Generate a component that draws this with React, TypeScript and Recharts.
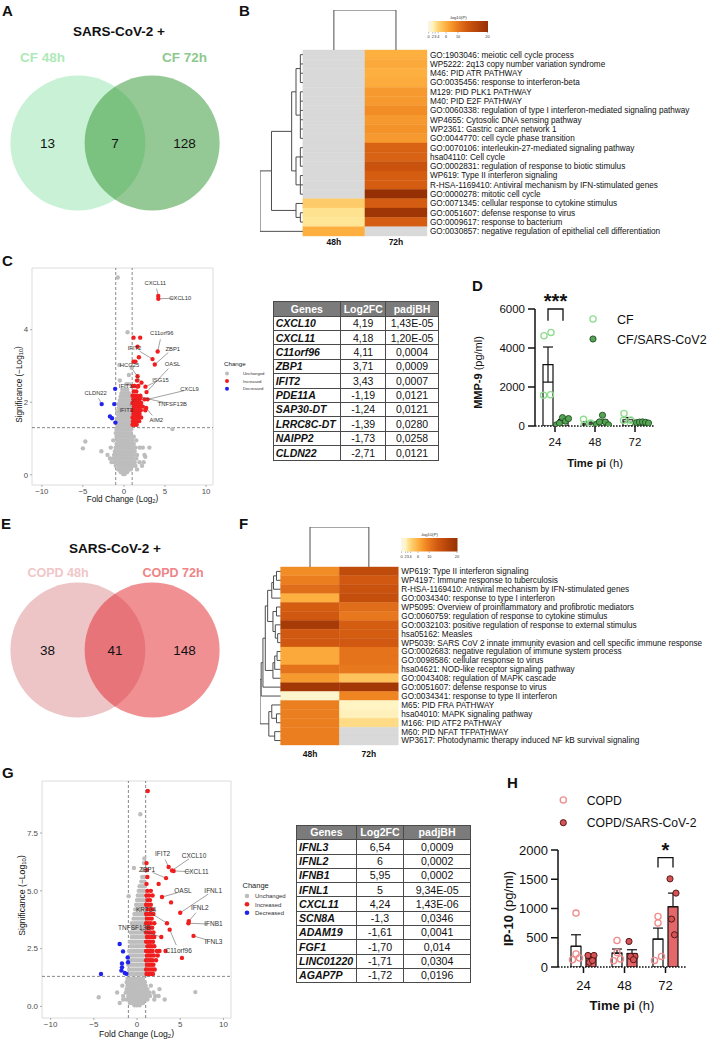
import React from "react";
import {
  ScatterChart,
  Scatter,
  ComposedChart,
  Bar,
  ErrorBar,
  LabelList,
  XAxis,
  YAxis,
  ReferenceLine,
  ReferenceArea,
} from "recharts";

const FONT = "'Liberation Sans', Arial, Helvetica, sans-serif";
const INK = "#111";

// ---------- A / E : venn counts (48h only, shared, 72h only)
const CF_COUNTS = [13, 7, 128];
const COPD_COUNTS = [38, 41, 148];

// ---------- B / F : enrichment heatmaps, -log10(P), null = not enriched
const HEAT_COLS = ["48h", "72h"];

const B_TERMS = [
  "GO:1903046: meiotic cell cycle process",
  "WP5222: 2q13 copy number variation syndrome",
  "M46: PID ATR PATHWAY",
  "GO:0035456: response to interferon-beta",
  "M129: PID PLK1 PATHWAY",
  "M40: PID E2F PATHWAY",
  "GO:0060338: regulation of type I interferon-mediated signaling pathway",
  "WP4655: Cytosolic DNA sensing pathway",
  "WP2361: Gastric cancer network 1",
  "GO:0044770: cell cycle phase transition",
  "GO:0070106: interleukin-27-mediated signaling pathway",
  "hsa04110: Cell cycle",
  "GO:0002831: regulation of response to biotic stimulus",
  "WP619: Type II interferon signaling",
  "R-HSA-1169410: Antiviral mechanism by IFN-stimulated genes",
  "GO:0000278: mitotic cell cycle",
  "GO:0071345: cellular response to cytokine stimulus",
  "GO:0051607: defense response to virus",
  "GO:0009617: response to bacterium",
  "GO:0030857: negative regulation of epithelial cell differentiation",
];
const B_48 = [null, null, null, null, null, null, null, null, null, null, null, null, null, null, null, null, 4.5, 3.2, 3.0, 6.0];
const B_72 = [6.0, 6.5, 6.0, 6.3, 7.5, 7.5, 8.5, 7.5, 8.0, 7.5, 12, 12, 14, 12.5, 12.5, 20, 12.5, 19, 12.5, null];

const F_TERMS = [
  "WP619: Type II interferon signaling",
  "WP4197: Immune response to tuberculosis",
  "R-HSA-1169410: Antiviral mechanism by IFN-stimulated genes",
  "GO:0034340: response to type I interferon",
  "WP5095: Overview of proinflammatory and profibrotic mediators",
  "GO:0060759: regulation of response to cytokine stimulus",
  "GO:0032103: positive regulation of response to external stimulus",
  "hsa05162: Measles",
  "WP5039: SARS CoV 2 innate immunity evasion and cell specific immune response",
  "GO:0002683: negative regulation of immune system process",
  "GO:0098586: cellular response to virus",
  "hsa04621: NOD-like receptor signaling pathway",
  "GO:0043408: regulation of MAPK cascade",
  "GO:0051607: defense response to virus",
  "GO:0034341: response to type II interferon",
  "M65: PID FRA PATHWAY",
  "hsa04010: MAPK signaling pathway",
  "M166: PID ATF2 PATHWAY",
  "M60: PID NFAT TFPATHWAY",
  "WP3617: Photodynamic therapy induced NF kB survival signaling",
];
const F_48 = [8.5, 9.5, 11, 6, 12.5, 13, 18, 13, 13, 6.5, 6.5, 10.5, 7.5, 18.5, 1.5, 9.5, 9.5, 9.5, 9.5, 9.5];
const F_72 = [15, 13, 14, 14.5, 11, 10, 12.5, 12.5, 13, 10.5, 10.5, 10, 5, 18.5, 9, 2, 2.2, 3.6, null, null];

// dendrograms: [merge height, ...children]; leaves are row indexes
const B_TREE: any = [-0.69,
  [-0.505,
    [-0.18,
      [-0.11, [-0.04, 0, 1, 2, 3], [-0.04, 4, 5, 6, 7, 8, 9]],
      [-0.11, [-0.04, 10, 11, 12], [-0.04, 13, 14, 15]]],
    [-0.11, 16, [-0.04, 17, 18]]],
  19];
const F_TREE: any = [-0.35,
  [-0.33,
    [-0.3,
      [-0.26,
        [-0.22,
          [-0.15, [-0.12, [-0.07, 0, 1], 2], 3],
          [-0.13, [-0.07, 4, 5], [-0.09, 6, [-0.05, 7, 8]]]],
        [-0.13, [-0.1, [-0.06, 9, 10], 11], 12]],
      13],
    14],
  [-0.2, [-0.15, 15, [-0.07, 16, 17]], [-0.1, 18, 19]]];

const HEAT_STOPS: [number, number[]][] = [
  [0, [247, 246, 236]], [2, [255, 244, 196]], [3, [254, 230, 150]], [4, [254, 212, 120]],
  [6, [253, 176, 64]], [8.5, [242, 140, 36]], [10, [232, 120, 30]], [13, [208, 88, 16]],
  [16, [184, 70, 10]], [20, [150, 48, 4]],
];
const HEAT_BAR_POS = [0, 0.08, 0.12, 0.17, 0.3, 0.425, 0.5, 0.65, 0.8, 1];
const HEAT_TICKS: [string, number][] = [["0", 0.01], ["2", 0.08], ["3", 0.12], ["4", 0.17], ["6", 0.3], ["10", 0.5], ["20", 0.99]];

// ---------- C / G volcano plots  (rows: [-log10 p, [log2 fc ...]])
const C_GRAY_ROWS: [number, number[]][] = [
  [0.02, [-0.1, 0.1]],
  [0.08, [-0.4, -0.2, 0, 0.2, 0.4]],
  [0.15, [-0.7, -0.45, -0.2, 0.05, 0.3, 0.55, 0.8, 1.6]],
  [0.25, [-1.0, -0.7, -0.4, -0.1, 0.2, 0.5, 0.8, 1.1, 1.4, 2.2]],
  [0.35, [-1.5, -1.1, -0.8, -0.5, -0.2, 0.1, 0.4, 0.7, 1.0, 1.3, 1.9, 2.4]],
  [0.45, [-1.7, -1.3, -1.0, -0.7, -0.4, -0.1, 0.2, 0.5, 0.8, 1.1, 1.5]],
  [0.55, [-2.0, -1.2, -0.9, -0.6, -0.3, 0, 0.3, 0.6, 0.9, 1.2, 1.6, 2.5]],
  [0.65, [-2.75, -1.1, -0.8, -0.5, -0.2, 0.1, 0.4, 0.7, 1.0, 1.3]],
  [0.75, [-1.6, -1.0, -0.7, -0.4, -0.1, 0.2, 0.5, 0.8, 1.1, 1.4, 1.9, 2.3, 3.1]],
  [0.85, [-0.9, -0.6, -0.3, 0, 0.3, 0.6, 0.9, 1.2]],
  [0.95, [-1.3, -0.8, -0.5, -0.2, 0.1, 0.4, 0.7, 1.0, 1.5]],
  [1.05, [-0.9, -0.6, -0.3, 0, 0.3, 0.6, 0.9, 1.2]],
  [1.15, [-1.0, -0.7, -0.4, -0.1, 0.2, 0.5, 0.8]],
  [1.25, [-0.9, -0.6, -0.3, 0, 0.3, 0.6, 0.9]],
  [1.35, [-0.8, -0.5, -0.2, 0.1, 0.4, 0.7]],
  [1.45, [-0.9, -0.6, -0.3, 0, 0.3, 0.6, 0.9]],
  [1.55, [-0.8, -0.5, -0.2, 0.1, 0.4, 0.7]],
  [1.65, [-0.7, -0.4, -0.1, 0.2, 0.5, 0.8]],
  [1.75, [-0.8, -0.5, -0.2, 0.1, 0.4, 0.7]],
  [1.85, [-0.6, -0.3, 0, 0.3, 0.6, 0.9]],
  [1.95, [-0.7, -0.4, -0.1, 0.2, 0.5, 0.8]],
  [2.05, [-0.5, -0.2, 0.1, 0.4, 0.7]],
  [2.15, [-0.4, -0.1, 0.2, 0.5, 0.8]],
  [2.25, [-0.3, 0, 0.3, 0.6]],
  [2.35, [-0.2, 0.1, 0.4]],
  [2.5, [0.3, 0.6]],
];
const C_GRAY_EXTRA = [
  { x: -0.75, y: 5.44 }, { x: 0.44, y: 3.93 }, { x: -0.55, y: 3.03 }, { x: 0.6, y: 2.75 },
  { x: -0.5, y: 2.6 }, { x: 0.95, y: 2.95 }, { x: -5.0, y: 0.73 }, { x: -4.7, y: 0.92 },
  { x: 5.9, y: 1.26 }, { x: 2.6, y: 0.5 },
];
const C_RED_ROWS: [number, number[]][] = [
  [1.38, [1.05, 1.3, 1.55]],
  [1.48, [1.1, 1.35, 1.6, 1.85]],
  [1.58, [1.05, 1.3, 1.55, 1.8, 2.1]],
  [1.68, [1.15, 1.4, 1.65, 1.9]],
  [1.78, [1.05, 1.3, 1.55, 1.8, 2.05, 2.6]],
  [1.88, [1.2, 1.45, 1.7, 1.95, 2.3]],
  [1.98, [1.05, 1.3, 1.55, 1.8, 2.1]],
  [2.08, [1.15, 1.4, 1.65, 1.9, 2.5]],
  [2.18, [1.05, 1.3, 1.6, 2.0]],
  [2.3, [1.2, 1.5]],
  [2.45, [1.1, 1.3, 1.75]],
  [2.6, [1.6]],
  [2.72, [1.66]],
  [3.12, [1.17, 1.4]],
  [3.24, [1.82]],
  [3.53, [1.66]],
  [3.78, [1.17, 1.98]],
];
const C_BLUE = [
  { x: -1.18, y: 1.95 }, { x: -1.07, y: 2.37 }, { x: -1.7, y: 1.61 }, { x: -1.45, y: 1.56 }, { x: -1.04, y: 1.44 },
];
const C_LABELED = [
  { gene: "CXCL11", x: 4.18, y: 4.93, up: true },
  { gene: "CXCL10", x: 4.19, y: 4.85, up: true },
  { gene: "C11orf96", x: 4.11, y: 3.4, up: true },
  { gene: "ZBP1", x: 3.76, y: 3.04, up: true },
  { gene: "IFIT2", x: 3.48, y: 3.19, up: true },
  { gene: "OASL", x: 2.75, y: 2.28, up: true },
  { gene: "HCG25", x: 2.14, y: 2.54, up: true },
  { gene: "ISG15", x: 2.62, y: 2.43, up: true },
  { gene: "CXCL9", x: 2.87, y: 2.08, up: true },
  { gene: "TNFSF13B", x: 1.99, y: 2.14, up: true },
  { gene: "IFIT3", x: 1.5, y: 2.14, up: true },
  { gene: "AIM2", x: 2.71, y: 1.84, up: true },
  { gene: "IFIT1", x: 1.66, y: 2.43, up: true },
  { gene: "CLDN22", x: -2.71, y: 1.95, up: false },
];
const C_LABEL_OFFSET: Record<string, [number, number]> = {
  CXCL11: [-3, -13], CXCL10: [22, -1], C11orf96: [4, -18], ZBP1: [18, -16], IFIT2: [-18, -11],
  OASL: [26, -28], HCG25: [-12, -18], ISG15: [15, -7], CXCL9: [42, -10], TNFSF13B: [32, 7],
  IFIT3: [-10, 13], AIM2: [10, 12], IFIT1: [-12, -1], CLDN22: [-6, -11],
};

const G_GRAY_ROWS: [number, number[]][] = [
  [0.05, [-0.3, 0, 0.3]],
  [0.15, [-2.0, -0.8, -0.5, -0.2, 0.1, 0.4, 0.7]],
  [0.3, [-1.6, -1.2, -0.9, -0.6, -0.3, 0, 0.3, 0.6, 0.9, 1.2, 2.0, 3.2]],
  [0.45, [-1.6, -1.0, -0.7, -0.4, -0.1, 0.2, 0.5, 0.8, 1.1, 1.5, 2.1, 2.5]],
  [0.6, [-2.3, -1.3, -1.0, -0.7, -0.4, -0.1, 0.2, 0.5, 0.8, 1.1, 1.4, 1.9]],
  [0.75, [-1.2, -0.9, -0.6, -0.3, 0, 0.3, 0.6, 0.9, 1.2, 2.6]],
  [0.9, [-1.7, -1.1, -0.8, -0.5, -0.2, 0.1, 0.4, 0.7, 1.0, 1.6]],
  [1.05, [-1.2, -0.9, -0.6, -0.3, 0, 0.3, 0.6, 0.9]],
  [1.2, [-1.1, -0.8, -0.5, -0.2, 0.1, 0.4, 0.7]],
  [1.4, [-1.0, -0.7, -0.4, -0.1, 0.2, 0.5, 0.8]],
  [1.6, [-0.9, -0.6, -0.3, 0, 0.3, 0.6, 0.9]],
  [1.8, [-1.0, -0.7, -0.4, -0.1, 0.2, 0.5, 0.8]],
  [2.0, [-0.9, -0.6, -0.3, 0, 0.3, 0.6, 0.9]],
  [2.2, [-0.8, -0.5, -0.2, 0.1, 0.4, 0.7]],
  [2.4, [-0.9, -0.6, -0.3, 0, 0.3, 0.6, 0.9]],
  [2.6, [-0.7, -0.4, -0.1, 0.2, 0.5, 0.8]],
  [2.8, [-0.8, -0.5, -0.2, 0.1, 0.4, 0.7]],
  [3.0, [-0.6, -0.3, 0, 0.3, 0.6, 0.9]],
  [3.2, [-0.7, -0.4, -0.1, 0.2, 0.5, 0.8]],
  [3.4, [-0.5, -0.2, 0.1, 0.4, 0.7]],
  [3.6, [-0.6, -0.3, 0, 0.3, 0.6, 0.9]],
  [3.8, [-0.4, -0.1, 0.2, 0.5, 0.8]],
  [4.0, [-0.3, 0, 0.3, 0.6, 0.9]],
  [4.2, [-0.2, 0.1, 0.4, 0.7]],
  [4.4, [-0.1, 0.2, 0.5, 0.8]],
  [4.6, [0, 0.3, 0.6, 0.9]],
  [4.8, [0.1, 0.4, 0.7]],
  [5.0, [0.2, 0.5, 0.8]],
  [5.2, [0.3, 0.6, 0.9]],
  [5.4, [0.5, 0.8]],
  [5.6, [0.6, 0.9]],
  [5.9, [0.7]],
  [6.2, [0.8]],
  [6.4, [0.85]],
];
const G_GRAY_EXTRA = [
  { x: 0.38, y: 8.31 }, { x: -0.36, y: 5.99 }, { x: -0.97, y: 4.77 }, { x: -4.44, y: 0.4 }, { x: 6.75, y: 0.62 },
];
const G_RED_ROWS: [number, number[]][] = [
  [1.4, [1.1, 1.35, 1.6, 1.85]],
  [1.6, [1.05, 1.3, 1.55, 1.8, 2.05]],
  [1.8, [1.15, 1.4, 1.65, 1.9]],
  [2.0, [1.05, 1.3, 1.55, 1.8, 2.2]],
  [2.2, [1.15, 1.4, 1.65, 1.95, 2.4]],
  [2.4, [1.05, 1.3, 1.55, 1.8, 2.3, 2.6, 3.3]],
  [2.6, [1.2, 1.45, 1.7, 2.0]],
  [2.8, [1.05, 1.3, 1.55, 1.85]],
  [3.0, [1.15, 1.4, 1.7, 2.0]],
  [3.2, [1.05, 1.3, 1.55, 1.9]],
  [3.4, [1.2, 1.45, 1.75]],
  [3.6, [1.05, 1.3, 1.6, 2.0]],
  [3.8, [1.15, 1.4, 1.7]],
  [4.0, [1.05, 1.3, 1.55, 1.9]],
  [4.2, [1.2, 1.5, 1.8]],
  [4.4, [1.05, 1.3, 1.6]],
  [4.6, [1.2, 1.5]],
  [4.8, [1.1, 1.4, 1.8]],
  [5.0, [1.2, 1.6]],
  [5.3, [1.1, 2.5]],
  [5.6, [1.2]],
  [5.9, [1.15]],
  [6.2, [1.1]],
];
const G_RED_EXTRA = [{ x: 1.24, y: 9.32 }, { x: 3.94, y: 4.5 }, { x: 5.2, y: 2.1 }];
const G_BLUE = [
  { x: -4.17, y: 1.4 }, { x: -2.01, y: 2.7 }, { x: -1.62, y: 2.38 }, { x: -1.74, y: 1.86 }, { x: -1.74, y: 1.69 },
  { x: -1.81, y: 1.55 }, { x: -1.42, y: 1.45 }, { x: -1.23, y: 1.41 }, { x: -1.04, y: 1.91 }, { x: -1.08, y: 2.12 },
];
const G_LABELED = [
  { gene: "IFIT2", x: 3.66, y: 6.03, up: true },
  { gene: "CXCL10", x: 4.05, y: 5.88, up: true },
  { gene: "CXCL11", x: 4.24, y: 5.86, up: true },
  { gene: "ZBP1", x: 3.36, y: 5.55, up: true },
  { gene: "OASL", x: 2.89, y: 4.73, up: true },
  { gene: "IFNL1", x: 5.0, y: 4.05, up: true },
  { gene: "IFNL2", x: 6.0, y: 3.69, up: true },
  { gene: "IFNB1", x: 5.95, y: 3.6, up: true },
  { gene: "IFNL3", x: 6.54, y: 3.05, up: true },
  { gene: "KRT34", x: 3.47, y: 3.6, up: true },
  { gene: "C11orf96", x: 3.78, y: 3.32, up: true },
  { gene: "TNFSF13B", x: 2.81, y: 3.0, up: true },
];
const G_LABEL_OFFSET: Record<string, [number, number]> = {
  IFIT2: [-6, -13], CXCL10: [22, -15], CXCL11: [23, 1], ZBP1: [-19, -8], OASL: [21, -6],
  IFNL1: [33, -22], IFNL2: [11, -13], IFNB1: [25, 1], IFNL3: [20, 6], KRT34: [-21, -13],
  C11orf96: [9, 21], TNFSF13B: [-27, -9],
};

// ---------- C / G top genes tables
const TABLE_HEAD = ["Genes", "Log2FC", "padjBH"];
const C_TABLE = [
  ["CXCL10", "4,19", "1,43E-05"], ["CXCL11", "4,18", "1,20E-05"], ["C11orf96", "4,11", "0,0004"],
  ["ZBP1", "3,71", "0,0009"], ["IFIT2", "3,43", "0,0007"], ["PDE11A", "-1,19", "0,0121"],
  ["SAP30-DT", "-1,24", "0,0121"], ["LRRC8C-DT", "-1,39", "0,0280"], ["NAIPP2", "-1,73", "0,0258"],
  ["CLDN22", "-2,71", "0,0121"],
];
const G_TABLE = [
  ["IFNL3", "6,54", "0,0009"], ["IFNL2", "6", "0,0002"], ["IFNB1", "5,95", "0,0002"],
  ["IFNL1", "5", "9,34E-05"], ["CXCL11", "4,24", "1,43E-06"], ["SCN8A", "-1,3", "0,0346"],
  ["ADAM19", "-1,61", "0,0041"], ["FGF1", "-1,70", "0,014"], ["LINC01220", "-1,71", "0,0304"],
  ["AGAP7P", "-1,72", "0,0196"],
];

// ---------- D / H cytokines (pg/ml), bars = mean, errors = SEM
const TIMES = ["24", "48", "72"];
const D_CF_MEAN = [3150, 160, 320];
const D_CF_SEM = [900, 65, 115];
const D_SARS_MEAN = [260, 220, 190];
const D_SARS_SEM = [75, 85, 12];
const D_CF_PTS = [[4630, 4800, 1580, 1600], [40, 110, 340, 160], [640, 295, 295, 70]];
const D_SARS_PTS = [[60, 150, 430, 250, 380], [90, 210, 550, 200, 60], [170, 200, 210, 190, 150]];
const H_COPD_MEAN = [355, 236, 477];
const H_COPD_SEM = [196, 71, 188];
const H_SARS_MEAN = [147, 231, 1030];
const H_SARS_SEM = [50, 64, 233];
const H_COPD_PTS = [[921, 222, 125, 153], [454, 249, 107, 136], [864, 751, 113, 181]];
const H_SARS_PTS = [[198, 198, 80, 110], [437, 181, 181, 125], [1507, 1263, 819, 551]];

// ------------------------------------------------------------------

const rowsToPts = (rows: [number, number[]][]) => rows.flatMap(([y, xs]) => xs.map((x) => ({ x, y })));

function heatColor(v: number | null) {
  if (v == null) return "#d9d9d9";
  for (let i = 1; i < HEAT_STOPS.length; i++) {
    const [v1, c1] = HEAT_STOPS[i];
    const [v0, c0] = HEAT_STOPS[i - 1];
    if (v <= v1) {
      const t = (v - v0) / (v1 - v0);
      const c = c0.map((a, k) => Math.round(a + (c1[k] - a) * t));
      return `rgb(${c[0]},${c[1]},${c[2]})`;
    }
  }
  const c = HEAT_STOPS[HEAT_STOPS.length - 1][1];
  return `rgb(${c[0]},${c[1]},${c[2]})`;
}

function layoutTree(node: any, segs: number[][]): { x: number; y: number } {
  if (typeof node === "number") return { x: 0, y: node + 0.5 };
  const [h, ...kids] = node;
  const pos = kids.map((k: any) => layoutTree(k, segs));
  const ys = pos.map((p: any) => p.y);
  segs.push([h, Math.min(...ys), h, Math.max(...ys)]);
  pos.forEach((p: any) => segs.push([p.x, p.y, h, p.y]));
  return { x: h, y: (pos[0].y + pos[pos.length - 1].y) / 2 };
}

type Part = { t: string; bold?: boolean; sub?: boolean };
function renderParts(parts: Part[]) {
  const out: any[] = [];
  let inSub = false;
  parts.forEach((p, i) => {
    let dy: string | undefined;
    if (p.sub && !inSub) dy = "0.3em";
    if (!p.sub && inSub) dy = "-0.3em";
    inSub = !!p.sub;
    out.push(
      <tspan key={i} dy={dy} fontWeight={p.bold ? "bold" : "normal"} fontSize={p.sub ? "70%" : undefined}>
        {p.t}
      </tspan>
    );
  });
  return out;
}

const xTitle = (parts: Part[], size: number, fromBottom: number) => (p: any) => {
  const vb = p && p.viewBox;
  if (!vb) return null;
  return (
    <text x={vb.x + vb.width / 2} y={vb.y + vb.height - fromBottom} textAnchor="middle" fontSize={size} fontFamily={FONT} fill={INK}>
      {renderParts(parts)}
    </text>
  );
};

const yTitle = (parts: Part[], size: number, dx: number, shift: number) => (p: any) => {
  const vb = p && p.viewBox;
  if (!vb) return null;
  const x = vb.x + dx;
  const y = vb.y + vb.height / 2 + shift;
  return (
    <text x={x} y={y} transform={`rotate(-90 ${x} ${y})`} textAnchor="middle" fontSize={size} fontFamily={FONT} fill={INK}>
      {renderParts(parts)}
    </text>
  );
};

const signed = (v: number) => (v < 0 ? `\u2212${Math.abs(v)}` : `${v}`);

// ---------------- Venn ----------------
const VENN_PX = 67.5; // radius in px
const VENN_CENTERS = [-0.55, 0.55];
const VENN_COUNT_X = [-1.0, 0, 1.03];

function Venn({ top, counts, fills, opacity }: { top: number; counts: number[]; fills: string[]; opacity: number }) {
  const nums = counts.map((n, i) => ({ x: VENN_COUNT_X[i], y: 0, n }));
  return (
    <div style={{ position: "absolute", left: 0, top }}>
      <ScatterChart width={240} height={230} margin={{ top: 0, right: 0, bottom: 0, left: 0 }}>
        <XAxis type="number" dataKey="x" domain={[-1.704, 1.852]} hide allowDataOverflow />
        <YAxis type="number" dataKey="y" domain={[-1.289, 2.119]} hide allowDataOverflow />
        <Scatter
          data={[{ x: VENN_CENTERS[0], y: 0 }]}
          isAnimationActive={false}
          shape={(p: any) => <circle cx={p.cx} cy={p.cy} r={VENN_PX} fill={fills[0]} />}
        />
        <Scatter
          data={[{ x: VENN_CENTERS[1], y: 0 }]}
          isAnimationActive={false}
          shape={(p: any) => <circle cx={p.cx} cy={p.cy} r={VENN_PX} fill={fills[1]} fillOpacity={opacity} />}
        />
        <Scatter
          data={nums}
          isAnimationActive={false}
          shape={(p: any) => (
            <text x={p.cx} y={p.cy} dy="0.36em" textAnchor="middle" fontSize={13.5} fontFamily={FONT} fill={INK}>
              {(p.payload ?? p).n}
            </text>
          )}
        />
      </ScatterChart>
    </div>
  );
}

// ---------------- Heatmap ----------------
function Heatmap(props: any) {
  const { left, top, plotW, plotH, axisW, xAxisH, colGap, xMin, yMin, labels, v48, v72, tree } = props;
  const segs: number[][] = [];
  layoutTree(tree, segs);
  const topSegs = [[0.5, 0, 0.5, yMin], [1.5, 0, 1.5, yMin], [0.5, yMin, 1.5, yMin]];
  const cells = labels.flatMap((_: string, r: number) => [
    { x: 0.5, y: r + 0.5, v: v48[r] },
    { x: 1.5, y: r + 0.5, v: v72[r] },
  ]);
  const rowTicks = labels.map((_: string, r: number) => r + 0.5);
  return (
    <div style={{ position: "absolute", left, top }}>
      <ScatterChart width={plotW + axisW} height={plotH + xAxisH} margin={{ top: 0, right: 0, bottom: 0, left: 0 }}>
        <XAxis
          type="number"
          dataKey="x"
          domain={[xMin, 2]}
          ticks={[0.5, 1.5]}
          interval={0}
          allowDataOverflow
          axisLine={false}
          tickLine={false}
          tickSize={0}
          tickMargin={colGap}
          height={xAxisH}
          tick={(p: any) => (
            <text x={p.x} y={p.y} dy="0.71em" textAnchor="middle" fontSize={8.5} fontWeight="bold" fontFamily={FONT} fill={INK}>
              {HEAT_COLS[Math.floor(p.payload.value)]}
            </text>
          )}
        />
        <YAxis
          type="number"
          dataKey="y"
          orientation="right"
          reversed
          domain={[yMin, 20]}
          ticks={rowTicks}
          interval={0}
          allowDataOverflow
          axisLine={false}
          tickLine={false}
          tickSize={0}
          tickMargin={3}
          width={axisW}
          tick={(p: any) => (
            <text x={p.x} y={p.y} dy="0.35em" textAnchor="start" fontSize={8.2} fontFamily={FONT} fill={INK}>
              {labels[Math.floor(p.payload.value)]}
            </text>
          )}
        />
        {cells.map((c: any, i: number) => (
          <ReferenceArea
            key={`c${i}`}
            x1={c.x - 0.5}
            x2={c.x + 0.5}
            y1={c.y - 0.5}
            y2={c.y + 0.5}
            fill={heatColor(c.v)}
            fillOpacity={1}
            stroke={heatColor(c.v)}
            strokeWidth={0.4}
            ifOverflow="visible"
          />
        ))}
        {[...segs, ...topSegs].map((s, i) => (
          <ReferenceLine
            key={`s${i}`}
            segment={[{ x: s[0], y: s[1] }, { x: s[2], y: s[3] }]}
            stroke="#4d4d4d"
            strokeWidth={1}
            ifOverflow="visible"
          />
        ))}
        <Scatter data={cells} isAnimationActive={false} shape={() => <g />} />
      </ScatterChart>
    </div>
  );
}

// ---------------- Volcano ----------------
const RED = "#f01e1e";
const BLUE = "#2222ee";
const GREY = "#bdbdbd";

function Volcano(props: any) {
  const {
    left, top, width, height, mt, mr, yAxisW, xAxisH, xd, yd, yTicks, yFmt, gray, red, blue, labeled, offsets,
    tickFont, titleFont, yDx, yShift, labelFont,
  } = props;
  const r = 2.2;
  const dot = (color: string) => (p: any) => <circle cx={p.cx} cy={p.cy} r={r} fill={color} />;
  const labeledShape = (p: any) => {
    const d = p.payload ?? p;
    const [dx, dy] = offsets[d.gene] || [0, 0];
    const dist = Math.hypot(dx, dy);
    const f = dist > 10 ? 1 - 6 / dist : 0;
    return (
      <g>
        {f > 0 && (
          <line x1={p.cx} y1={p.cy} x2={p.cx + dx * f} y2={p.cy + dy * f} stroke="#444" strokeWidth={0.5} />
        )}
        <circle cx={p.cx} cy={p.cy} r={r} fill={d.up ? RED : BLUE} />
        <text x={p.cx + dx} y={p.cy + dy} dy="0.35em" textAnchor="middle" fontSize={labelFont} fontFamily={FONT} fill="#333">
          {d.gene}
        </text>
      </g>
    );
  };
  return (
    <div style={{ position: "absolute", left, top }}>
      <ScatterChart width={width} height={height} margin={{ top: mt, right: mr, bottom: 0, left: 0 }}>
        <XAxis
          type="number"
          dataKey="x"
          domain={xd}
          ticks={[-10, -5, 0, 5, 10]}
          interval={0}
          allowDataOverflow
          axisLine={false}
          tickLine={{ stroke: "#777", strokeWidth: 0.6 }}
          tickSize={2}
          tickMargin={1}
          height={xAxisH}
          tick={{ fontSize: tickFont, fill: "#4d4d4d", fontFamily: FONT }}
          tickFormatter={signed}
          label={xTitle([{ t: "Fold Change (Log" }, { t: "2", sub: true }, { t: ")" }], titleFont, 3.5)}
        />
        <YAxis
          type="number"
          dataKey="y"
          domain={yd}
          ticks={yTicks}
          interval={0}
          allowDataOverflow
          axisLine={false}
          tickLine={{ stroke: "#777", strokeWidth: 0.6 }}
          tickSize={2}
          tickMargin={2}
          width={yAxisW}
          tick={{ fontSize: tickFont, fill: "#4d4d4d", fontFamily: FONT }}
          tickFormatter={yFmt}
          label={yTitle([{ t: "Significance (\u2212Log" }, { t: "10", sub: true }, { t: ")" }], titleFont, yDx, yShift)}
        />
        <ReferenceArea x1={xd[0]} x2={xd[1]} y1={yd[0]} y2={yd[1]} fill="none" stroke="#dcdcdc" strokeWidth={1} ifOverflow="visible" />
        <Scatter data={gray} isAnimationActive={false} shape={dot(GREY)} />
        <Scatter data={red} isAnimationActive={false} shape={dot(RED)} />
        <Scatter data={blue} isAnimationActive={false} shape={dot(BLUE)} />
        <ReferenceLine x={-1} stroke="#555" strokeWidth={0.7} strokeDasharray="3 2" />
        <ReferenceLine x={1} stroke="#555" strokeWidth={0.7} strokeDasharray="3 2" />
        <ReferenceLine y={1.3} stroke="#555" strokeWidth={0.7} strokeDasharray="3 2" />
        <Scatter data={labeled} isAnimationActive={false} shape={labeledShape} />
      </ScatterChart>
    </div>
  );
}

// ---------------- Table ----------------
function GeneTable({ left, top, widths, headH, rowH, rows, font }: any) {
  const cell: React.CSSProperties = { border: "1px solid #4a4a4a", padding: 0, lineHeight: 1, whiteSpace: "nowrap" };
  return (
    <table
      style={{
        position: "absolute", left, top, borderCollapse: "collapse", tableLayout: "fixed",
        width: widths.reduce((a: number, b: number) => a + b, 0), fontFamily: FONT, fontSize: font, color: INK,
      }}
    >
      <colgroup>
        {widths.map((w: number, i: number) => <col key={i} style={{ width: w }} />)}
      </colgroup>
      <thead>
        <tr style={{ height: headH }}>
          {TABLE_HEAD.map((h) => (
            <th key={h} style={{ ...cell, background: "#7b7b7b", color: "#fff", fontWeight: "bold", textAlign: "center" }}>{h}</th>
          ))}
        </tr>
      </thead>
      <tbody>
        {rows.map((r: string[]) => (
          <tr key={r[0]} style={{ height: rowH }}>
            <td style={{ ...cell, fontWeight: "bold", fontStyle: "italic", textAlign: "left", paddingLeft: 2 }}>{r[0]}</td>
            <td style={{ ...cell, textAlign: "center" }}>{r[1]}</td>
            <td style={{ ...cell, textAlign: "center" }}>{r[2]}</td>
          </tr>
        ))}
      </tbody>
    </table>
  );
}

// ---------------- Grouped bars with points ----------------
const BAR_W = 10;
const BAR_GAP = 5;

function GroupBars(props: any) {
  const {
    left, top, width, height, mt, mr, yAxisW, xAxisH, padLeft, yDomain, yTicks, tickFont, tickMargin,
    aMean, aErr, bMean, bErr, aPts, bPts, upOnly, aColor, bColor, bStroke, bBar, jA, jB, sig, yParts, yFont, yDx, yShift, xFont,
  } = props;
  const rows = TIMES.map((t, i) => {
    const r: any = {
      t,
      a: aMean[i],
      b: bMean[i],
      aErr: upOnly ? [0, aErr[i]] : aErr[i],
      bErr: upOnly ? [0, bErr[i]] : bErr[i],
    };
    aPts[i].forEach((v: number, k: number) => (r[`a${k}`] = v));
    bPts[i].forEach((v: number, k: number) => (r[`b${k}`] = v));
    return r;
  });
  const nA = Math.max(...aPts.map((p: number[]) => p.length));
  const nB = Math.max(...bPts.map((p: number[]) => p.length));
  const half = (BAR_W + BAR_GAP) / 2;
  const pt = (dx: number, open: boolean, color: string, stroke: string) => (p: any) => {
    if (p.cx == null || p.cy == null || !Number.isFinite(p.cy)) return <g />;
    return (
      <circle
        cx={p.cx + dx}
        cy={p.cy}
        r={3.1}
        fill={open ? "none" : color}
        stroke={open ? color : stroke}
        strokeWidth={open ? 1.3 : 0.9}
      />
    );
  };
  // significance bracket drawn from the first bar's geometry (value -> px from its own height)
  const sigLabel = (p: any) => {
    if (p == null || p.index !== sig.index) return null;
    const vb = p.viewBox && Number.isFinite(p.viewBox.x) ? p.viewBox : p;
    const v = Number(p.value);
    if (!Number.isFinite(vb.x) || !Number.isFinite(vb.height) || !v) return null;
    const base = vb.y + vb.height;
    const per = vb.height / v;
    const yT = base - sig.top * per;
    const yL = base - sig.leg * per;
    const x1 = vb.x + vb.width / 2;
    const x2 = x1 + BAR_W + BAR_GAP;
    return (
      <g>
        <path d={`M${x1},${yL}V${yT}H${x2}V${yL}`} fill="none" stroke={INK} strokeWidth={1.3} />
        <text x={(x1 + x2) / 2} y={yT - 1} textAnchor="middle" fontSize={20} fontWeight="bold" fontFamily={FONT} fill={INK}>
          {sig.text}
        </text>
      </g>
    );
  };
  const axisStyle = { stroke: INK, strokeWidth: 1.5 };
  return (
    <div style={{ position: "absolute", left, top }}>
      <ComposedChart width={width} height={height} data={rows} margin={{ top: mt, right: mr, bottom: 0, left: 0 }} barGap={BAR_GAP}>
        <XAxis
          dataKey="t"
          padding={{ left: padLeft, right: 0 }}
          axisLine={{ ...axisStyle, strokeDasharray: "1.6 1.4" }}
          tickLine={axisStyle}
          tickSize={6}
          tickMargin={tickMargin}
          height={xAxisH}
          tick={{ fontSize: tickFont, fill: INK, fontFamily: FONT }}
          label={xTitle([{ t: "Time pi", bold: true }, { t: " (h)" }], xFont, 3)}
        />
        <YAxis
          domain={yDomain}
          ticks={yTicks}
          interval={0}
          allowDataOverflow
          axisLine={axisStyle}
          tickLine={axisStyle}
          tickSize={7}
          tickMargin={3}
          width={yAxisW}
          tick={{ fontSize: tickFont, fill: INK, fontFamily: FONT }}
          label={yTitle(yParts, yFont, yDx, yShift)}
        />
        <Bar dataKey="a" barSize={BAR_W} fill="#fff" stroke={INK} strokeWidth={1.2} isAnimationActive={false}>
          <ErrorBar dataKey="aErr" width={5} stroke={INK} strokeWidth={1.2} />
          <LabelList dataKey="a" content={sigLabel} />
        </Bar>
        <Bar dataKey="b" barSize={BAR_W} fill={bBar} stroke={INK} strokeWidth={1.2} isAnimationActive={false}>
          <ErrorBar dataKey="bErr" width={5} stroke={INK} strokeWidth={1.2} />
        </Bar>
        {Array.from({ length: nA }).map((_, k) => (
          <Scatter key={`a${k}`} dataKey={`a${k}`} isAnimationActive={false} shape={pt(-half + jA[k], true, aColor, aColor)} />
        ))}
        {Array.from({ length: nB }).map((_, k) => (
          <Scatter key={`b${k}`} dataKey={`b${k}`} isAnimationActive={false} shape={pt(half + jB[k], false, bColor, bStroke)} />
        ))}
      </ComposedChart>
    </div>
  );
}

// ---------------- free text: panel letters, titles, legends ----------------
function Overlay() {
  const T = (x: number, y: number, size: number, txt: string, o: any = {}) => (
    <text
      x={x}
      y={y}
      fontSize={size}
      fontFamily={FONT}
      fill={o.fill ?? INK}
      fontWeight={o.bold ? "bold" : "normal"}
      textAnchor={o.anchor ?? "start"}
    >
      {txt}
    </text>
  );
  const heatLegend = (x: number, y: number, w: number, h: number) => (
    <g>
      {T(x + w / 2, y - 2.5, 4.2, "-log10(P)", { anchor: "middle", fill: "#333" })}
      <rect x={x} y={y} width={w} height={h} fill="url(#heatbar)" />
      {HEAT_TICKS.map(([s, f]) => (
        <g key={s}>
          <line x1={x + f * w} x2={x + f * w} y1={y + h} y2={y + h + 1.5} stroke="#555" strokeWidth={0.4} />
          {T(x + f * w, y + h + 6, 3.8, s, { anchor: "middle", fill: "#333" })}
        </g>
      ))}
    </g>
  );
  return (
    <svg width={722} height={1041} style={{ position: "absolute", left: 0, top: 0, pointerEvents: "none" }}>
      <defs>
        <linearGradient id="heatbar" x1="0" x2="1" y1="0" y2="0">
          {HEAT_STOPS.map(([v], i) => (
            <stop key={i} offset={HEAT_BAR_POS[i]} stopColor={heatColor(v)} />
          ))}
        </linearGradient>
      </defs>
      {T(2, 16, 15, "A", { bold: true })}
      {T(239, 16, 15, "B", { bold: true })}
      {T(2, 266, 15, "C", { bold: true })}
      {T(472, 291, 15, "D", { bold: true })}
      {T(1, 529, 15, "E", { bold: true })}
      {T(239, 529, 15, "F", { bold: true })}
      {T(2, 778, 15, "G", { bold: true })}
      {T(507, 788, 15, "H", { bold: true })}

      {T(119, 36, 13.5, "SARS-CoV-2 +", { bold: true, anchor: "middle" })}
      {T(42.5, 61.5, 13.5, "CF 48h", { bold: true, anchor: "middle", fill: "#aee9b9" })}
      {T(184.5, 61.5, 13.5, "CF 72h", { bold: true, anchor: "middle", fill: "#8dc98d" })}
      {T(115, 553, 13.5, "SARS-CoV-2 +", { bold: true, anchor: "middle" })}
      {T(58, 576.5, 12.5, "COPD 48h", { bold: true, anchor: "middle", fill: "#f0c6c7" })}
      {T(173, 576.5, 12.5, "COPD 72h", { bold: true, anchor: "middle", fill: "#ee8486" })}

      {heatLegend(428, 21, 60, 11)}
      {heatLegend(401, 538, 56.5, 13.5)}

      {T(224, 366, 6.2, "Change", { fill: "#222" })}
      <circle cx={227} cy={373.5} r={2} fill={GREY} />
      <circle cx={227} cy={381} r={2} fill={RED} />
      <circle cx={227} cy={388.7} r={2} fill={BLUE} />
      {T(243, 375, 4.2, "Unchanged", { fill: "#333" })}
      {T(243, 382.5, 4.2, "Increased", { fill: "#333" })}
      {T(243, 390.2, 4.2, "Decreased", { fill: "#333" })}

      {T(242.5, 887.5, 7.5, "Change", { fill: "#222" })}
      <circle cx={247} cy={896} r={2.3} fill={GREY} />
      <circle cx={247} cy={904.3} r={2.3} fill={RED} />
      <circle cx={247} cy={912.7} r={2.3} fill={BLUE} />
      {T(255, 898.2, 6, "Unchanged", { fill: "#333" })}
      {T(255, 906.5, 6, "Increased", { fill: "#333" })}
      {T(255, 914.9, 6, "Decreased", { fill: "#333" })}

      <circle cx={593} cy={319} r={3.1} fill="none" stroke="#8fdc8f" strokeWidth={1.3} />
      {T(617, 323.5, 12.5, "CF")}
      <circle cx={593} cy={339} r={3.1} fill="#55a355" stroke="#1f4f1f" strokeWidth={0.9} />
      {T(617, 343.5, 12.5, "CF/SARS-CoV2")}

      <circle cx={563.3} cy={800} r={3.1} fill="none" stroke="#f08c8c" strokeWidth={1.3} />
      {T(586.7, 804.5, 12.2, "COPD")}
      <circle cx={563.3} cy={822.7} r={3.1} fill="#d45356" stroke="#4a1010" strokeWidth={0.9} />
      {T(586.7, 827.2, 12.2, "COPD/SARS-CoV-2")}
    </svg>
  );
}

export default function App() {
  return (
    <div style={{ position: "absolute", left: 0, top: 0, width: 722, height: 1041, background: "#fff", overflow: "hidden", fontFamily: FONT }}>
      <Venn top={0} counts={CF_COUNTS} fills={["#c8f1d6", "#3c9b3c"]} opacity={0.55} />
      <Venn top={507} counts={COPD_COUNTS} fills={["#edc5c7", "#e22b2f"]} opacity={0.52} />

      <Heatmap left={260} top={10} plotW={167} plotH={226} axisW={292} xAxisH={14} colGap={3}
        xMin={-0.69} yMin={-4.3} labels={B_TERMS} v48={B_48} v72={B_72} tree={B_TREE} />
      <Heatmap left={260} top={527} plotW={138.3} plotH={218} axisW={322} xAxisH={18} colGap={6}
        xMin={-0.35} yMin={-4.49} labels={F_TERMS} v48={F_48} v72={F_72} tree={F_TREE} />

      <Volcano left={0} top={262} width={222} height={243} mt={6} mr={9} yAxisW={32} xAxisH={20}
        xd={[-11.2, 10.85]} yd={[-0.28, 5.7]} yTicks={[0, 2, 4]} yFmt={(v: number) => `${v}`}
        gray={[...rowsToPts(C_GRAY_ROWS), ...C_GRAY_EXTRA]} red={rowsToPts(C_RED_ROWS)} blue={C_BLUE}
        labeled={C_LABELED} offsets={C_LABEL_OFFSET} tickFont={7.8} titleFont={8.2} yDx={21.5} yShift={8} labelFont={5.8} />
      <Volcano left={0} top={772} width={233} height={268} mt={9} mr={2} yAxisW={42} xAxisH={22}
        xd={[-11.0, 10.88]} yd={[-0.5, 9.75]} yTicks={[0, 2.5, 5, 7.5]} yFmt={(v: number) => v.toFixed(1)}
        gray={[...rowsToPts(G_GRAY_ROWS), ...G_GRAY_EXTRA]} red={[...rowsToPts(G_RED_ROWS), ...G_RED_EXTRA]} blue={G_BLUE}
        labeled={G_LABELED} offsets={G_LABEL_OFFSET} tickFont={8} titleFont={8.6} yDx={24.5} yShift={-4} labelFont={6.5} />

      <GeneTable left={272.7} top={301} widths={[67.3, 45.5, 52.2]} headH={14.7} rowH={14.4} rows={C_TABLE} font={10.5} />
      <GeneTable left={296} top={825} widths={[59.7, 47.6, 66.7]} headH={14.3} rowH={14.3} rows={G_TABLE} font={10.6} />

      <GroupBars left={470} top={280} width={195} height={190} mt={29} mr={10} yAxisW={65} xAxisH={44} padLeft={0}
        yDomain={[0, 6000]} yTicks={[0, 2000, 4000, 6000]} tickFont={11.5} tickMargin={6}
        aMean={D_CF_MEAN} aErr={D_CF_SEM} bMean={D_SARS_MEAN} bErr={D_SARS_SEM} aPts={D_CF_PTS} bPts={D_SARS_PTS}
        upOnly={false} aColor="#8fdc8f" bColor="#55a355" bStroke="#1f4f1f" bBar="#fff"
        jA={[-3.5, 3.5, -4, 3]} jB={[-6, -3, 0, 3, 6]}
        sig={{ index: 0, top: 6000, leg: 5400, text: "***" }}
        yParts={[{ t: "MMP-9", bold: true }, { t: " (pg/ml)" }]} yFont={11} yDx={12} yShift={5} xFont={11.2} />
      <GroupBars left={490} top={820} width={204} height={193} mt={30} mr={8} yAxisW={68} xAxisH={46} padLeft={5}
        yDomain={[0, 2000]} yTicks={[0, 500, 1000, 1500, 2000]} tickFont={13} tickMargin={8}
        aMean={H_COPD_MEAN} aErr={H_COPD_SEM} bMean={H_SARS_MEAN} bErr={H_SARS_SEM} aPts={H_COPD_PTS} bPts={H_SARS_PTS}
        upOnly={true} aColor="#f08c8c" bColor="#d45356" bStroke="#4a1010" bBar="#e4686a"
        jA={[0, 0, -3.5, 3.5]} jB={[-3, 3, -1.5, 1.5]}
        sig={{ index: 2, top: 1870, leg: 1700, text: "*" }}
        yParts={[{ t: "IP-10", bold: true }, { t: " (pg/ml)" }]} yFont={13} yDx={22.5} yShift={0} xFont={13} />

      <Overlay />
    </div>
  );
}
